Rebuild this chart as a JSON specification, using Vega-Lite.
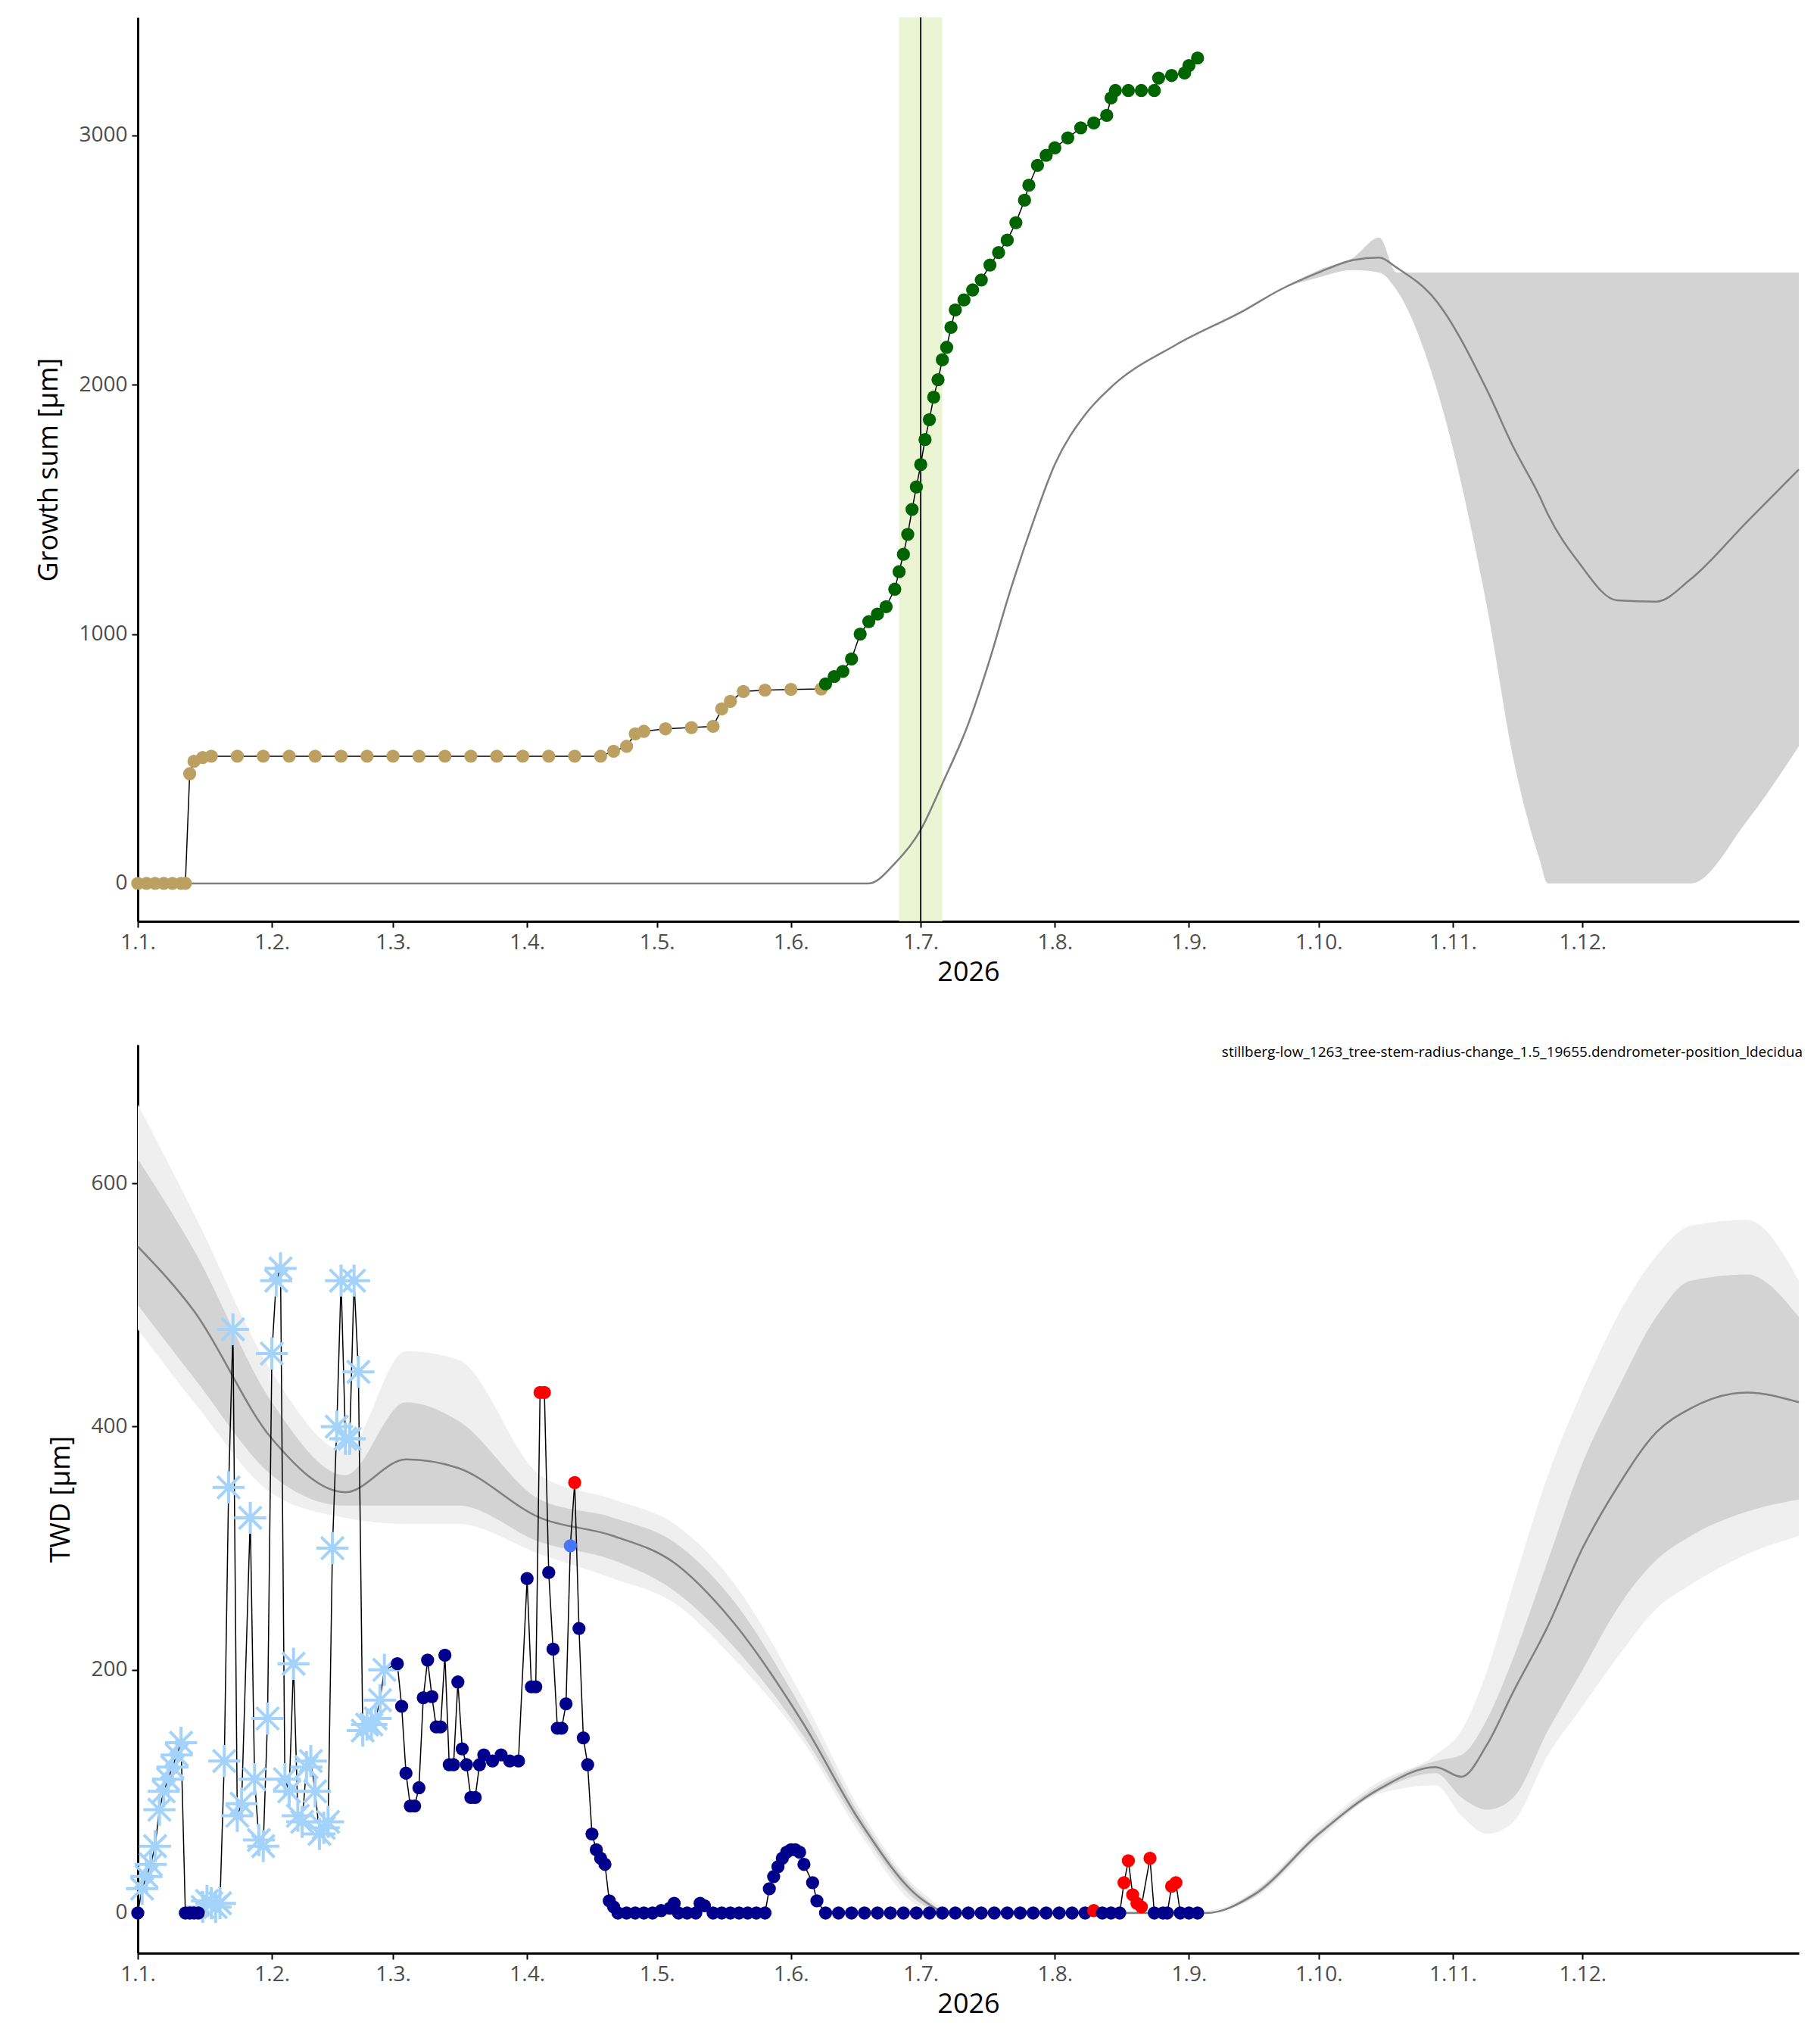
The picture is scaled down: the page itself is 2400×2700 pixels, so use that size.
{
  "$schema": "https://vega.github.io/schema/vega-lite/v6.json",
  "padding": {"left": 46, "top": 22, "right": 10, "bottom": 10},
  "spacing": 78,
  "resolve": {"scale": {"color": "independent"}},
  "datasets": {
    "growth": [
      {"d": "2026-01-01", "v": 0, "c": "pre"}, {"d": "2026-01-03", "v": 0, "c": "pre"}, {"d": "2026-01-05", "v": 0, "c": "pre"}, {"d": "2026-01-07", "v": 0, "c": "pre"}, {"d": "2026-01-09", "v": 0, "c": "pre"}, {"d": "2026-01-11", "v": 0, "c": "pre"}, {"d": "2026-01-12", "v": 0, "c": "pre"},
      {"d": "2026-01-13", "v": 440, "c": "pre"}, {"d": "2026-01-14", "v": 490, "c": "pre"}, {"d": "2026-01-16", "v": 505, "c": "pre"}, {"d": "2026-01-18", "v": 510, "c": "pre"}, {"d": "2026-01-24", "v": 510, "c": "pre"}, {"d": "2026-01-30", "v": 510, "c": "pre"}, {"d": "2026-02-05", "v": 510, "c": "pre"}, {"d": "2026-02-11", "v": 510, "c": "pre"}, {"d": "2026-02-17", "v": 510, "c": "pre"}, {"d": "2026-02-23", "v": 510, "c": "pre"}, {"d": "2026-03-01", "v": 510, "c": "pre"}, {"d": "2026-03-07", "v": 510, "c": "pre"}, {"d": "2026-03-13", "v": 510, "c": "pre"}, {"d": "2026-03-19", "v": 510, "c": "pre"}, {"d": "2026-03-25", "v": 510, "c": "pre"}, {"d": "2026-03-31", "v": 510, "c": "pre"}, {"d": "2026-04-06", "v": 510, "c": "pre"}, {"d": "2026-04-12", "v": 510, "c": "pre"}, {"d": "2026-04-18", "v": 510, "c": "pre"},
      {"d": "2026-04-21", "v": 530, "c": "pre"}, {"d": "2026-04-24", "v": 550, "c": "pre"}, {"d": "2026-04-26", "v": 600, "c": "pre"}, {"d": "2026-04-28", "v": 610, "c": "pre"}, {"d": "2026-05-03", "v": 620, "c": "pre"}, {"d": "2026-05-09", "v": 625, "c": "pre"}, {"d": "2026-05-14", "v": 630, "c": "pre"}, {"d": "2026-05-16", "v": 700, "c": "pre"}, {"d": "2026-05-18", "v": 730, "c": "pre"}, {"d": "2026-05-21", "v": 770, "c": "pre"}, {"d": "2026-05-26", "v": 775, "c": "pre"}, {"d": "2026-06-01", "v": 778, "c": "pre"}, {"d": "2026-06-08", "v": 780, "c": "pre"},
      {"d": "2026-06-09", "v": 800, "c": "grow"}, {"d": "2026-06-11", "v": 830, "c": "grow"}, {"d": "2026-06-13", "v": 850, "c": "grow"}, {"d": "2026-06-15", "v": 900, "c": "grow"}, {"d": "2026-06-17", "v": 1000, "c": "grow"}, {"d": "2026-06-19", "v": 1050, "c": "grow"}, {"d": "2026-06-21", "v": 1080, "c": "grow"}, {"d": "2026-06-23", "v": 1110, "c": "grow"}, {"d": "2026-06-25", "v": 1180, "c": "grow"}, {"d": "2026-06-26", "v": 1250, "c": "grow"}, {"d": "2026-06-27", "v": 1320, "c": "grow"}, {"d": "2026-06-28", "v": 1400, "c": "grow"}, {"d": "2026-06-29", "v": 1500, "c": "grow"}, {"d": "2026-06-30", "v": 1590, "c": "grow"}, {"d": "2026-07-01", "v": 1680, "c": "grow"}, {"d": "2026-07-02", "v": 1780, "c": "grow"}, {"d": "2026-07-03", "v": 1860, "c": "grow"}, {"d": "2026-07-04", "v": 1950, "c": "grow"}, {"d": "2026-07-05", "v": 2020, "c": "grow"}, {"d": "2026-07-06", "v": 2100, "c": "grow"}, {"d": "2026-07-07", "v": 2150, "c": "grow"}, {"d": "2026-07-08", "v": 2230, "c": "grow"}, {"d": "2026-07-09", "v": 2300, "c": "grow"}, {"d": "2026-07-11", "v": 2340, "c": "grow"}, {"d": "2026-07-13", "v": 2380, "c": "grow"}, {"d": "2026-07-15", "v": 2420, "c": "grow"}, {"d": "2026-07-17", "v": 2480, "c": "grow"}, {"d": "2026-07-19", "v": 2530, "c": "grow"}, {"d": "2026-07-21", "v": 2580, "c": "grow"}, {"d": "2026-07-23", "v": 2650, "c": "grow"}, {"d": "2026-07-25", "v": 2740, "c": "grow"}, {"d": "2026-07-26", "v": 2800, "c": "grow"}, {"d": "2026-07-28", "v": 2880, "c": "grow"}, {"d": "2026-07-30", "v": 2920, "c": "grow"}, {"d": "2026-08-01", "v": 2950, "c": "grow"}, {"d": "2026-08-04", "v": 2990, "c": "grow"}, {"d": "2026-08-07", "v": 3030, "c": "grow"}, {"d": "2026-08-10", "v": 3050, "c": "grow"}, {"d": "2026-08-13", "v": 3080, "c": "grow"}, {"d": "2026-08-14", "v": 3150, "c": "grow"}, {"d": "2026-08-15", "v": 3180, "c": "grow"}, {"d": "2026-08-18", "v": 3180, "c": "grow"}, {"d": "2026-08-21", "v": 3180, "c": "grow"}, {"d": "2026-08-24", "v": 3180, "c": "grow"}, {"d": "2026-08-25", "v": 3230, "c": "grow"}, {"d": "2026-08-28", "v": 3240, "c": "grow"}, {"d": "2026-08-31", "v": 3250, "c": "grow"}, {"d": "2026-09-01", "v": 3280, "c": "grow"}, {"d": "2026-09-03", "v": 3310, "c": "grow"}
    ],
    "clim1": [
      {"d": "2026-01-01", "m": 0, "lo": 0, "hi": 0}, {"d": "2026-06-19", "m": 0, "lo": 0, "hi": 0}, {"d": "2026-06-25", "m": 80, "lo": 80, "hi": 80}, {"d": "2026-07-01", "m": 215, "lo": 215, "hi": 215}, {"d": "2026-07-06", "m": 400, "lo": 400, "hi": 400}, {"d": "2026-07-12", "m": 640, "lo": 640, "hi": 640}, {"d": "2026-07-17", "m": 900, "lo": 900, "hi": 900}, {"d": "2026-07-21", "m": 1135, "lo": 1135, "hi": 1135}, {"d": "2026-07-27", "m": 1450, "lo": 1450, "hi": 1450}, {"d": "2026-08-01", "m": 1680, "lo": 1680, "hi": 1680}, {"d": "2026-08-08", "m": 1880, "lo": 1880, "hi": 1880}, {"d": "2026-08-14", "m": 1990, "lo": 1990, "hi": 1990}, {"d": "2026-08-29", "m": 2160, "lo": 2160, "hi": 2160}, {"d": "2026-09-14", "m": 2300, "lo": 2300, "hi": 2300}, {"d": "2026-09-22", "m": 2380, "lo": 2380, "hi": 2380}, {"d": "2026-10-01", "m": 2450, "lo": 2430, "hi": 2460}, {"d": "2026-10-09", "m": 2500, "lo": 2460, "hi": 2510}, {"d": "2026-10-15", "m": 2510, "lo": 2450, "hi": 2590}, {"d": "2026-10-19", "m": 2470, "lo": 2380, "hi": 2450}, {"d": "2026-10-28", "m": 2340, "lo": 2000, "hi": 2450}, {"d": "2026-11-09", "m": 1975, "lo": 1100, "hi": 2450}, {"d": "2026-11-15", "m": 1750, "lo": 500, "hi": 2450}, {"d": "2026-11-21", "m": 1555, "lo": 100, "hi": 2450}, {"d": "2026-11-23", "m": 1480, "lo": 0, "hi": 2450}, {"d": "2026-11-30", "m": 1290, "lo": 0, "hi": 2450}, {"d": "2026-12-09", "m": 1135, "lo": 0, "hi": 2450}, {"d": "2026-12-18", "m": 1130, "lo": 0, "hi": 2450}, {"d": "2026-12-26", "m": 1220, "lo": 0, "hi": 2450}, {"d": "2027-01-08", "m": 1450, "lo": 250, "hi": 2450}, {"d": "2027-01-20", "m": 1660, "lo": 550, "hi": 2450}
    ],
    "twd": [
      {"d": "2026-01-01", "v": 0, "c": "dry"}, {"d": "2026-01-02", "v": 20, "c": "snow"}, {"d": "2026-01-03", "v": 30, "c": "snow"}, {"d": "2026-01-04", "v": 40, "c": "snow"}, {"d": "2026-01-05", "v": 55, "c": "snow"}, {"d": "2026-01-06", "v": 85, "c": "snow"}, {"d": "2026-01-07", "v": 100, "c": "snow"}, {"d": "2026-01-08", "v": 110, "c": "snow"}, {"d": "2026-01-09", "v": 120, "c": "snow"}, {"d": "2026-01-10", "v": 130, "c": "snow"}, {"d": "2026-01-11", "v": 140, "c": "snow"},
      {"d": "2026-01-12", "v": 0, "c": "dry"}, {"d": "2026-01-13", "v": 0, "c": "dry"}, {"d": "2026-01-14", "v": 0, "c": "dry"}, {"d": "2026-01-15", "v": 0, "c": "dry"}, {"d": "2026-01-16", "v": 5, "c": "snow"}, {"d": "2026-01-17", "v": 10, "c": "snow"}, {"d": "2026-01-18", "v": 8, "c": "snow"}, {"d": "2026-01-19", "v": 5, "c": "snow"}, {"d": "2026-01-20", "v": 8, "c": "snow"},
      {"d": "2026-01-21", "v": 125, "c": "snow"}, {"d": "2026-01-22", "v": 350, "c": "snow"}, {"d": "2026-01-23", "v": 480, "c": "snow"}, {"d": "2026-01-24", "v": 80, "c": "snow"}, {"d": "2026-01-25", "v": 90, "c": "snow"}, {"d": "2026-01-27", "v": 325, "c": "snow"}, {"d": "2026-01-28", "v": 110, "c": "snow"}, {"d": "2026-01-29", "v": 60, "c": "snow"}, {"d": "2026-01-30", "v": 55, "c": "snow"}, {"d": "2026-01-31", "v": 160, "c": "snow"}, {"d": "2026-02-01", "v": 460, "c": "snow"}, {"d": "2026-02-02", "v": 520, "c": "snow"}, {"d": "2026-02-03", "v": 530, "c": "snow"}, {"d": "2026-02-04", "v": 110, "c": "snow"}, {"d": "2026-02-05", "v": 100, "c": "snow"}, {"d": "2026-02-06", "v": 205, "c": "snow"}, {"d": "2026-02-07", "v": 80, "c": "snow"}, {"d": "2026-02-08", "v": 75, "c": "snow"}, {"d": "2026-02-09", "v": 120, "c": "snow"}, {"d": "2026-02-10", "v": 125, "c": "snow"}, {"d": "2026-02-11", "v": 100, "c": "snow"}, {"d": "2026-02-12", "v": 65, "c": "snow"}, {"d": "2026-02-13", "v": 70, "c": "snow"}, {"d": "2026-02-14", "v": 75, "c": "snow"}, {"d": "2026-02-15", "v": 300, "c": "snow"}, {"d": "2026-02-16", "v": 400, "c": "snow"}, {"d": "2026-02-17", "v": 520, "c": "snow"}, {"d": "2026-02-18", "v": 390, "c": "snow"}, {"d": "2026-02-19", "v": 390, "c": "snow"}, {"d": "2026-02-20", "v": 520, "c": "snow"}, {"d": "2026-02-21", "v": 445, "c": "snow"}, {"d": "2026-02-22", "v": 150, "c": "snow"}, {"d": "2026-02-23", "v": 155, "c": "snow"}, {"d": "2026-02-24", "v": 155, "c": "snow"}, {"d": "2026-02-25", "v": 160, "c": "snow"}, {"d": "2026-02-26", "v": 175, "c": "snow"}, {"d": "2026-02-27", "v": 200, "c": "snow"},
      {"d": "2026-03-02", "v": 205, "c": "dry"}, {"d": "2026-03-03", "v": 170, "c": "dry"}, {"d": "2026-03-04", "v": 115, "c": "dry"}, {"d": "2026-03-05", "v": 88, "c": "dry"}, {"d": "2026-03-06", "v": 88, "c": "dry"}, {"d": "2026-03-07", "v": 103, "c": "dry"}, {"d": "2026-03-08", "v": 177, "c": "dry"}, {"d": "2026-03-09", "v": 208, "c": "dry"}, {"d": "2026-03-10", "v": 178, "c": "dry"}, {"d": "2026-03-11", "v": 153, "c": "dry"}, {"d": "2026-03-12", "v": 153, "c": "dry"}, {"d": "2026-03-13", "v": 212, "c": "dry"}, {"d": "2026-03-14", "v": 122, "c": "dry"}, {"d": "2026-03-15", "v": 122, "c": "dry"}, {"d": "2026-03-16", "v": 190, "c": "dry"}, {"d": "2026-03-17", "v": 135, "c": "dry"}, {"d": "2026-03-18", "v": 122, "c": "dry"}, {"d": "2026-03-19", "v": 95, "c": "dry"}, {"d": "2026-03-20", "v": 95, "c": "dry"}, {"d": "2026-03-21", "v": 122, "c": "dry"}, {"d": "2026-03-22", "v": 130, "c": "dry"}, {"d": "2026-03-24", "v": 125, "c": "dry"}, {"d": "2026-03-26", "v": 130, "c": "dry"}, {"d": "2026-03-28", "v": 125, "c": "dry"}, {"d": "2026-03-30", "v": 125, "c": "dry"}, {"d": "2026-04-01", "v": 275, "c": "dry"}, {"d": "2026-04-02", "v": 186, "c": "dry"}, {"d": "2026-04-03", "v": 186, "c": "dry"},
      {"d": "2026-04-04", "v": 428, "c": "red"}, {"d": "2026-04-05", "v": 428, "c": "red"}, {"d": "2026-04-06", "v": 280, "c": "dry"}, {"d": "2026-04-07", "v": 217, "c": "dry"}, {"d": "2026-04-08", "v": 152, "c": "dry"}, {"d": "2026-04-09", "v": 152, "c": "dry"}, {"d": "2026-04-10", "v": 172, "c": "dry"}, {"d": "2026-04-11", "v": 302, "c": "blue"}, {"d": "2026-04-12", "v": 354, "c": "red"}, {"d": "2026-04-13", "v": 234, "c": "dry"}, {"d": "2026-04-14", "v": 144, "c": "dry"}, {"d": "2026-04-15", "v": 122, "c": "dry"}, {"d": "2026-04-16", "v": 65, "c": "dry"}, {"d": "2026-04-17", "v": 52, "c": "dry"}, {"d": "2026-04-18", "v": 45, "c": "dry"}, {"d": "2026-04-19", "v": 40, "c": "dry"}, {"d": "2026-04-20", "v": 10, "c": "dry"}, {"d": "2026-04-21", "v": 5, "c": "dry"}, {"d": "2026-04-22", "v": 0, "c": "dry"}, {"d": "2026-04-24", "v": 0, "c": "dry"}, {"d": "2026-04-26", "v": 0, "c": "dry"}, {"d": "2026-04-28", "v": 0, "c": "dry"}, {"d": "2026-04-30", "v": 0, "c": "dry"}, {"d": "2026-05-02", "v": 2, "c": "dry"}, {"d": "2026-05-04", "v": 4, "c": "dry"}, {"d": "2026-05-05", "v": 8, "c": "dry"}, {"d": "2026-05-06", "v": 0, "c": "dry"}, {"d": "2026-05-08", "v": 0, "c": "dry"}, {"d": "2026-05-10", "v": 0, "c": "dry"}, {"d": "2026-05-11", "v": 8, "c": "dry"}, {"d": "2026-05-12", "v": 6, "c": "dry"}, {"d": "2026-05-14", "v": 0, "c": "dry"}, {"d": "2026-05-16", "v": 0, "c": "dry"}, {"d": "2026-05-18", "v": 0, "c": "dry"}, {"d": "2026-05-20", "v": 0, "c": "dry"}, {"d": "2026-05-22", "v": 0, "c": "dry"}, {"d": "2026-05-24", "v": 0, "c": "dry"}, {"d": "2026-05-26", "v": 0, "c": "dry"},
      {"d": "2026-05-27", "v": 20, "c": "dry"}, {"d": "2026-05-28", "v": 30, "c": "dry"}, {"d": "2026-05-29", "v": 38, "c": "dry"}, {"d": "2026-05-30", "v": 45, "c": "dry"}, {"d": "2026-05-31", "v": 50, "c": "dry"}, {"d": "2026-06-01", "v": 52, "c": "dry"}, {"d": "2026-06-02", "v": 52, "c": "dry"}, {"d": "2026-06-03", "v": 50, "c": "dry"}, {"d": "2026-06-04", "v": 40, "c": "dry"}, {"d": "2026-06-06", "v": 25, "c": "dry"}, {"d": "2026-06-07", "v": 10, "c": "dry"}, {"d": "2026-06-09", "v": 0, "c": "dry"},
      {"d": "2026-06-12", "v": 0, "c": "dry"}, {"d": "2026-06-15", "v": 0, "c": "dry"}, {"d": "2026-06-18", "v": 0, "c": "dry"}, {"d": "2026-06-21", "v": 0, "c": "dry"}, {"d": "2026-06-24", "v": 0, "c": "dry"}, {"d": "2026-06-27", "v": 0, "c": "dry"}, {"d": "2026-06-30", "v": 0, "c": "dry"}, {"d": "2026-07-03", "v": 0, "c": "dry"}, {"d": "2026-07-06", "v": 0, "c": "dry"}, {"d": "2026-07-09", "v": 0, "c": "dry"}, {"d": "2026-07-12", "v": 0, "c": "dry"}, {"d": "2026-07-15", "v": 0, "c": "dry"}, {"d": "2026-07-18", "v": 0, "c": "dry"}, {"d": "2026-07-21", "v": 0, "c": "dry"}, {"d": "2026-07-24", "v": 0, "c": "dry"}, {"d": "2026-07-27", "v": 0, "c": "dry"}, {"d": "2026-07-30", "v": 0, "c": "dry"}, {"d": "2026-08-02", "v": 0, "c": "dry"}, {"d": "2026-08-05", "v": 0, "c": "dry"}, {"d": "2026-08-08", "v": 0, "c": "dry"},
      {"d": "2026-08-10", "v": 2, "c": "red"}, {"d": "2026-08-12", "v": 0, "c": "dry"}, {"d": "2026-08-14", "v": 0, "c": "dry"}, {"d": "2026-08-16", "v": 0, "c": "dry"}, {"d": "2026-08-17", "v": 25, "c": "red"}, {"d": "2026-08-18", "v": 43, "c": "red"}, {"d": "2026-08-19", "v": 15, "c": "red"}, {"d": "2026-08-20", "v": 8, "c": "red"}, {"d": "2026-08-21", "v": 5, "c": "red"}, {"d": "2026-08-23", "v": 45, "c": "red"}, {"d": "2026-08-24", "v": 0, "c": "dry"}, {"d": "2026-08-26", "v": 0, "c": "dry"}, {"d": "2026-08-27", "v": 0, "c": "dry"}, {"d": "2026-08-28", "v": 22, "c": "red"}, {"d": "2026-08-29", "v": 25, "c": "red"}, {"d": "2026-08-30", "v": 0, "c": "dry"}, {"d": "2026-09-01", "v": 0, "c": "dry"}, {"d": "2026-09-03", "v": 0, "c": "dry"}
    ],
    "clim2": [
      {"d": "2026-01-01", "m": 548, "lo1": 500, "hi1": 620, "lo2": 480, "hi2": 665},
      {"d": "2026-01-14", "m": 495, "lo1": 440, "hi1": 545, "lo2": 420, "hi2": 575},
      {"d": "2026-02-01", "m": 390, "lo1": 360, "hi1": 420, "lo2": 345, "hi2": 445},
      {"d": "2026-02-18", "m": 346, "lo1": 335, "hi1": 360, "lo2": 325, "hi2": 380},
      {"d": "2026-03-04", "m": 373, "lo1": 335, "hi1": 420, "lo2": 320, "hi2": 462},
      {"d": "2026-03-16", "m": 366, "lo1": 335, "hi1": 405, "lo2": 320, "hi2": 455},
      {"d": "2026-04-04", "m": 325, "lo1": 305, "hi1": 340, "lo2": 295, "hi2": 360},
      {"d": "2026-04-21", "m": 310, "lo1": 290, "hi1": 325, "lo2": 275, "hi2": 340},
      {"d": "2026-05-05", "m": 288, "lo1": 265, "hi1": 305, "lo2": 255, "hi2": 320},
      {"d": "2026-05-18", "m": 242, "lo1": 222, "hi1": 260, "lo2": 212, "hi2": 275},
      {"d": "2026-06-04", "m": 155, "lo1": 145, "hi1": 165, "lo2": 140, "hi2": 175},
      {"d": "2026-06-17", "m": 75, "lo1": 70, "hi1": 80, "lo2": 65, "hi2": 85},
      {"d": "2026-07-01", "m": 12, "lo1": 8, "hi1": 15, "lo2": 5, "hi2": 18},
      {"d": "2026-07-08", "m": 0, "lo1": 0, "hi1": 0, "lo2": 0, "hi2": 3},
      {"d": "2026-09-05", "m": 0, "lo1": 0, "hi1": 0, "lo2": 0, "hi2": 2},
      {"d": "2026-09-16", "m": 15, "lo1": 13, "hi1": 17, "lo2": 12, "hi2": 18},
      {"d": "2026-10-01", "m": 65, "lo1": 63, "hi1": 67, "lo2": 60, "hi2": 70},
      {"d": "2026-10-15", "m": 102, "lo1": 100, "hi1": 105, "lo2": 98, "hi2": 108},
      {"d": "2026-10-28", "m": 120, "lo1": 115, "hi1": 125, "lo2": 105, "hi2": 130},
      {"d": "2026-11-03", "m": 112, "lo1": 95, "hi1": 130, "lo2": 80, "hi2": 150},
      {"d": "2026-11-09", "m": 139, "lo1": 85, "hi1": 160, "lo2": 65, "hi2": 200},
      {"d": "2026-11-15", "m": 182, "lo1": 95, "hi1": 210, "lo2": 75, "hi2": 270},
      {"d": "2026-11-23", "m": 236, "lo1": 150, "hi1": 290, "lo2": 130, "hi2": 360},
      {"d": "2026-12-01", "m": 300, "lo1": 200, "hi1": 370, "lo2": 170, "hi2": 430},
      {"d": "2026-12-09", "m": 350, "lo1": 250, "hi1": 430, "lo2": 210, "hi2": 490},
      {"d": "2026-12-18", "m": 395, "lo1": 290, "hi1": 490, "lo2": 250, "hi2": 540},
      {"d": "2026-12-26", "m": 415, "lo1": 310, "hi1": 520, "lo2": 270, "hi2": 565},
      {"d": "2027-01-08", "m": 428, "lo1": 330, "hi1": 525, "lo2": 295, "hi2": 570},
      {"d": "2027-01-20", "m": 420, "lo1": 340, "hi1": 490, "lo2": 310, "hi2": 520}
    ],
    "win": [{"a": "2026-06-26", "b": "2026-07-06", "mid": "2026-07-01"}]
  },
  "vconcat": [
    {
      "width": 2194,
      "height": 1194,
      "layer": [
        {
          "data": {"name": "clim1"},
          "mark": {"type": "area", "color": "#d3d3d3", "interpolate": "monotone"},
          "encoding": {
            "x": {
              "field": "d", "type": "temporal",
              "scale": {"type": "utc", "domain": [{"year": 2026, "month": 1, "date": 1, "utc": true}, {"year": 2027, "month": 1, "date": 20, "utc": true}]},
              "axis": {"labelExpr": "utcFormat(datum.value, '%-d.%-m.')", "values": [
                {"year": 2026, "month": 1, "date": 1, "utc": true}, {"year": 2026, "month": 2, "date": 1, "utc": true}, {"year": 2026, "month": 3, "date": 1, "utc": true}, {"year": 2026, "month": 4, "date": 1, "utc": true}, {"year": 2026, "month": 5, "date": 1, "utc": true}, {"year": 2026, "month": 6, "date": 1, "utc": true}, {"year": 2026, "month": 7, "date": 1, "utc": true}, {"year": 2026, "month": 8, "date": 1, "utc": true}, {"year": 2026, "month": 9, "date": 1, "utc": true}, {"year": 2026, "month": 10, "date": 1, "utc": true}, {"year": 2026, "month": 11, "date": 1, "utc": true}, {"year": 2026, "month": 12, "date": 1, "utc": true}]},
              "title": "2026"
            },
            "y": {"field": "lo", "type": "quantitative", "scale": {"domain": [-152, 3473], "nice": false}, "axis": {"values": [0, 1000, 2000, 3000], "format": "d"}, "title": "Growth sum [µm]"},
            "y2": {"field": "hi"}
          }
        },
        {
          "data": {"name": "win"},
          "mark": {"type": "rect", "color": "#e6f2c9", "opacity": 0.8},
          "encoding": {"x": {"field": "a", "type": "temporal"}, "x2": {"field": "b"}}
        },
        {
          "data": {"name": "clim1"},
          "mark": {"type": "line", "color": "#7f7f7f", "strokeWidth": 2.5, "interpolate": "monotone"},
          "encoding": {"x": {"field": "d", "type": "temporal"}, "y": {"field": "m", "type": "quantitative"}}
        },
        {
          "data": {"name": "win"},
          "mark": {"type": "rule", "color": "black", "strokeWidth": 1.8},
          "encoding": {"x": {"field": "mid", "type": "temporal"}}
        },
        {
          "data": {"name": "growth"},
          "mark": {"type": "line", "color": "black", "strokeWidth": 1.5},
          "encoding": {"x": {"field": "d", "type": "temporal"}, "y": {"field": "v", "type": "quantitative"}}
        },
        {
          "data": {"name": "growth"},
          "mark": {"type": "circle", "size": 300, "opacity": 1},
          "encoding": {
            "x": {"field": "d", "type": "temporal"},
            "y": {"field": "v", "type": "quantitative"},
            "color": {"field": "c", "type": "nominal", "scale": {"domain": ["pre", "grow"], "range": ["#bca062", "#006400"]}, "legend": null}
          }
        }
      ]
    },
    {
      "width": 2194,
      "height": 1200,
      "title": {"text": "stillberg-low_1263_tree-stem-radius-change_1.5_19655.dendrometer-position_ldecidua", "anchor": "end", "fontSize": 19, "fontWeight": "normal", "offset": -20},
      "layer": [
        {
          "data": {"name": "clim2"},
          "mark": {"type": "area", "color": "#efefef", "interpolate": "monotone"},
          "encoding": {
            "x": {
              "field": "d", "type": "temporal",
              "scale": {"type": "utc", "domain": [{"year": 2026, "month": 1, "date": 1, "utc": true}, {"year": 2027, "month": 1, "date": 20, "utc": true}]},
              "axis": {"labelExpr": "utcFormat(datum.value, '%-d.%-m.')", "values": [
                {"year": 2026, "month": 1, "date": 1, "utc": true}, {"year": 2026, "month": 2, "date": 1, "utc": true}, {"year": 2026, "month": 3, "date": 1, "utc": true}, {"year": 2026, "month": 4, "date": 1, "utc": true}, {"year": 2026, "month": 5, "date": 1, "utc": true}, {"year": 2026, "month": 6, "date": 1, "utc": true}, {"year": 2026, "month": 7, "date": 1, "utc": true}, {"year": 2026, "month": 8, "date": 1, "utc": true}, {"year": 2026, "month": 9, "date": 1, "utc": true}, {"year": 2026, "month": 10, "date": 1, "utc": true}, {"year": 2026, "month": 11, "date": 1, "utc": true}, {"year": 2026, "month": 12, "date": 1, "utc": true}]},
              "title": "2026"
            },
            "y": {"field": "lo2", "type": "quantitative", "scale": {"domain": [-33, 714], "nice": false}, "axis": {"values": [0, 200, 400, 600]}, "title": "TWD [µm]"},
            "y2": {"field": "hi2"}
          }
        },
        {
          "data": {"name": "clim2"},
          "mark": {"type": "area", "color": "#d3d3d3", "interpolate": "monotone"},
          "encoding": {"x": {"field": "d", "type": "temporal"}, "y": {"field": "lo1", "type": "quantitative"}, "y2": {"field": "hi1"}}
        },
        {
          "data": {"name": "clim2"},
          "mark": {"type": "line", "color": "#7f7f7f", "strokeWidth": 2.5, "interpolate": "monotone"},
          "encoding": {"x": {"field": "d", "type": "temporal"}, "y": {"field": "m", "type": "quantitative"}}
        },
        {
          "data": {"name": "twd"},
          "mark": {"type": "line", "color": "black", "strokeWidth": 1.5},
          "encoding": {"x": {"field": "d", "type": "temporal"}, "y": {"field": "v", "type": "quantitative"}}
        },
        {
          "data": {"name": "twd"},
          "transform": [{"filter": "datum.c == 'snow'"}],
          "mark": {"type": "point", "filled": false, "size": 1800, "strokeWidth": 4, "color": "#a3d3fa", "opacity": 1,
            "shape": "M-1,0L1,0M0,-1L0,1M-0.7,-0.7L0.7,0.7M-0.7,0.7L0.7,-0.7"},
          "encoding": {"x": {"field": "d", "type": "temporal"}, "y": {"field": "v", "type": "quantitative"}}
        },
        {
          "data": {"name": "twd"},
          "transform": [{"filter": "datum.c != 'snow'"}],
          "mark": {"type": "circle", "size": 300, "opacity": 1},
          "encoding": {
            "x": {"field": "d", "type": "temporal"},
            "y": {"field": "v", "type": "quantitative"},
            "color": {"field": "c", "type": "nominal", "scale": {"domain": ["dry", "red", "blue"], "range": ["#00008b", "#ff0000", "#4876ff"]}, "legend": null}
          }
        }
      ]
    }
  ],
  "config": {
    "font": "Open Sans",
    "view": {"stroke": null},
    "axis": {"grid": false, "domainColor": "black", "domainWidth": 3, "tickColor": "black", "tickWidth": 2, "tickSize": 8, "labelFontSize": 28, "labelColor": "#4d4d4d", "titleFontSize": 36, "titleFontWeight": "normal", "titleColor": "black", "labelPadding": 6},
    "axisX": {"titlePadding": 8, "labelFlush": false},
    "axisY": {"titlePadding": 20}
  }
}
